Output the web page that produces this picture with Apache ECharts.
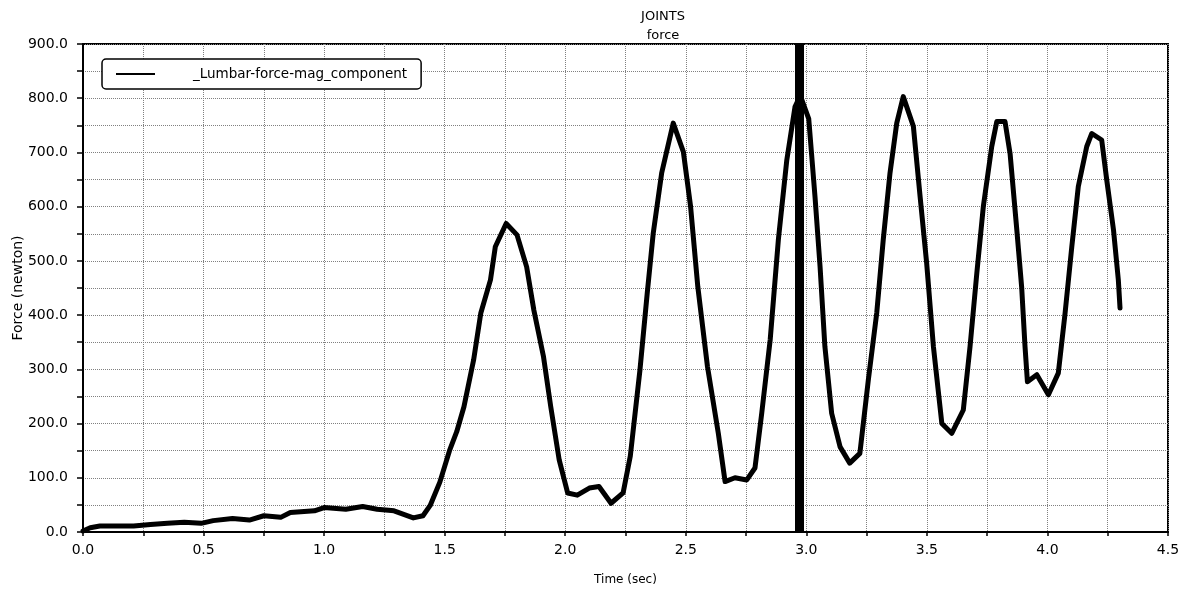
<!DOCTYPE html>
<html>
<head>
<meta charset="utf-8">
<script src="https://cdn.jsdelivr.net/npm/echarts@6/dist/echarts.min.js"></script>
<style>
html,body{margin:0;padding:0;background:#fff;}
#chart{width:1185px;height:589px;}
</style>
</head>
<body>
<div id="chart"></div>
<script>
// Time (sec)
const timeSec = [
  0.00, 0.03, 0.07, 0.21, 0.28, 0.35, 0.42, 0.49, 0.54, 0.62,
  0.69, 0.75, 0.82, 0.86, 0.96, 1.00, 1.09, 1.16, 1.22, 1.29,
  1.37, 1.41, 1.44, 1.48, 1.52, 1.55, 1.58, 1.62, 1.65, 1.69,
  1.71, 1.755, 1.80, 1.84, 1.87, 1.91, 1.94, 1.975, 2.01, 2.05,
  2.10, 2.14, 2.19, 2.24, 2.27, 2.31, 2.34, 2.365, 2.40, 2.448,
  2.49, 2.52, 2.55, 2.59, 2.635, 2.663, 2.704, 2.753, 2.787, 2.815,
  2.85, 2.884, 2.919, 2.953, 2.975, 3.01, 3.036, 3.057, 3.077, 3.105,
  3.14, 3.18, 3.222, 3.257, 3.292, 3.319, 3.347, 3.375, 3.402, 3.444,
  3.472, 3.499, 3.527, 3.562, 3.603, 3.651, 3.679, 3.707, 3.734, 3.769,
  3.79, 3.824, 3.845, 3.873, 3.893, 3.907, 3.917, 3.956, 4.004, 4.045,
  4.073, 4.101, 4.128, 4.163, 4.184, 4.225, 4.246, 4.274, 4.294, 4.301
];
// Force (newton)
const forceN = [
  2, 8, 11, 11, 14, 16, 18, 16, 21, 25,
  22, 30, 27, 36, 39, 45, 42, 47, 42, 39,
  26, 30, 49, 92, 150, 185, 231, 317, 404, 465,
  526, 569, 548, 489, 409, 323, 231, 133, 72, 68,
  81, 84, 53, 72, 140, 299, 440, 551, 662, 754,
  701, 600, 452, 305, 182, 93, 100, 96, 118, 219,
  354, 539, 686, 784, 805, 762, 618, 489, 342, 219,
  157, 127, 145, 280, 404, 539, 662, 754, 803, 748,
  618, 496, 342, 200, 182, 225, 342, 477, 600, 711,
  757, 757, 698, 557, 452, 342, 277, 290, 253, 293,
  403, 526, 637, 711, 735, 723, 649, 557, 465, 413
];
const seriesName = '_Lumbar-force-mag_component';
const cursorTime = 2.97;
const titleMain = 'JOINTS';
const titleSub = 'force';
const xName = 'Time (sec)';
const yName = 'Force (newton)';

const points = timeSec.map((t, i) => [t, forceN[i]]);
const FONT = 'DejaVu Sans';

const chart = echarts.init(document.getElementById('chart'), null, {renderer: 'canvas'});
chart.setOption({
  backgroundColor: '#fff',
  animation: false,
  title: [
    {text: titleMain, left: 658, top: 5, textAlign: 'center',
     textStyle: {fontFamily: FONT, fontSize: 13, fontWeight: 'normal', color: '#000'}},
    {text: titleSub, left: 658, top: 24, textAlign: 'center',
     textStyle: {fontFamily: FONT, fontSize: 13, fontWeight: 'normal', color: '#000'}}
  ],
  legend: {
    show: true,
    left: 102, top: 59,
    padding: [8, 14, 8, 14],
    borderColor: '#000', borderWidth: 1.5, borderRadius: 4,
    backgroundColor: '#fff',
    icon: 'rect', itemWidth: 39, itemHeight: 2,
    textStyle: {fontFamily: FONT, fontSize: 13.5, color: '#000', padding: [0, 0, 0, 33]},
    data: [seriesName]
  },
  grid: {
    left: 83, right: 17, top: 44, bottom: 57,
    outerBoundsMode: 'none', containLabel: false,
    show: true, borderColor: '#000', borderWidth: 2
  },
  xAxis: {
    type: 'value', min: 0, max: 4.5, interval: 0.25,
    name: xName, nameLocation: 'middle', nameGap: 42,
    nameTextStyle: {fontFamily: FONT, fontSize: 12, color: '#000'},
    axisLine: {show: true, onZero: false, lineStyle: {color: '#000', width: 2}},
    axisTick: {show: true, inside: false, length: 4, lineStyle: {color: '#000', width: 1.5}},
    axisLabel: {
      fontFamily: FONT, fontSize: 14, color: '#000', margin: 11,
      formatter: v => (Math.abs(v / 0.5 - Math.round(v / 0.5)) < 1e-6 ? v.toFixed(1) : '')
    },
    splitLine: {show: true, lineStyle: {color: '#808080', type: 'dotted', width: 1}}
  },
  yAxis: {
    type: 'value', min: 0, max: 900, interval: 50,
    name: yName, nameLocation: 'middle', nameGap: 58, nameRotate: 90,
    nameMoveOverlap: false,
    nameTextStyle: {fontFamily: FONT, fontSize: 14, color: '#000'},
    axisLine: {show: true, onZero: false, lineStyle: {color: '#000', width: 2}},
    axisTick: {show: true, inside: false, length: 6, lineStyle: {color: '#000', width: 1.5}},
    axisLabel: {
      fontFamily: FONT, fontSize: 14, color: '#000', margin: 15,
      formatter: v => (v % 100 === 0 ? v.toFixed(1) : '')
    },
    splitLine: {show: true, lineStyle: {color: '#808080', type: 'dotted', width: 1}}
  },
  series: [{
    name: seriesName,
    type: 'line',
    data: points,
    showSymbol: false,
    smooth: false,
    lineStyle: {color: '#000', width: 5, join: 'round', cap: 'round'},
    itemStyle: {color: '#000'},
    markLine: {
      silent: true,
      symbol: ['none', 'none'],
      label: {show: false},
      lineStyle: {color: '#000', width: 9, type: 'solid'},
      data: [{xAxis: cursorTime}]
    }
  }]
});
</script>
</body>
</html>
